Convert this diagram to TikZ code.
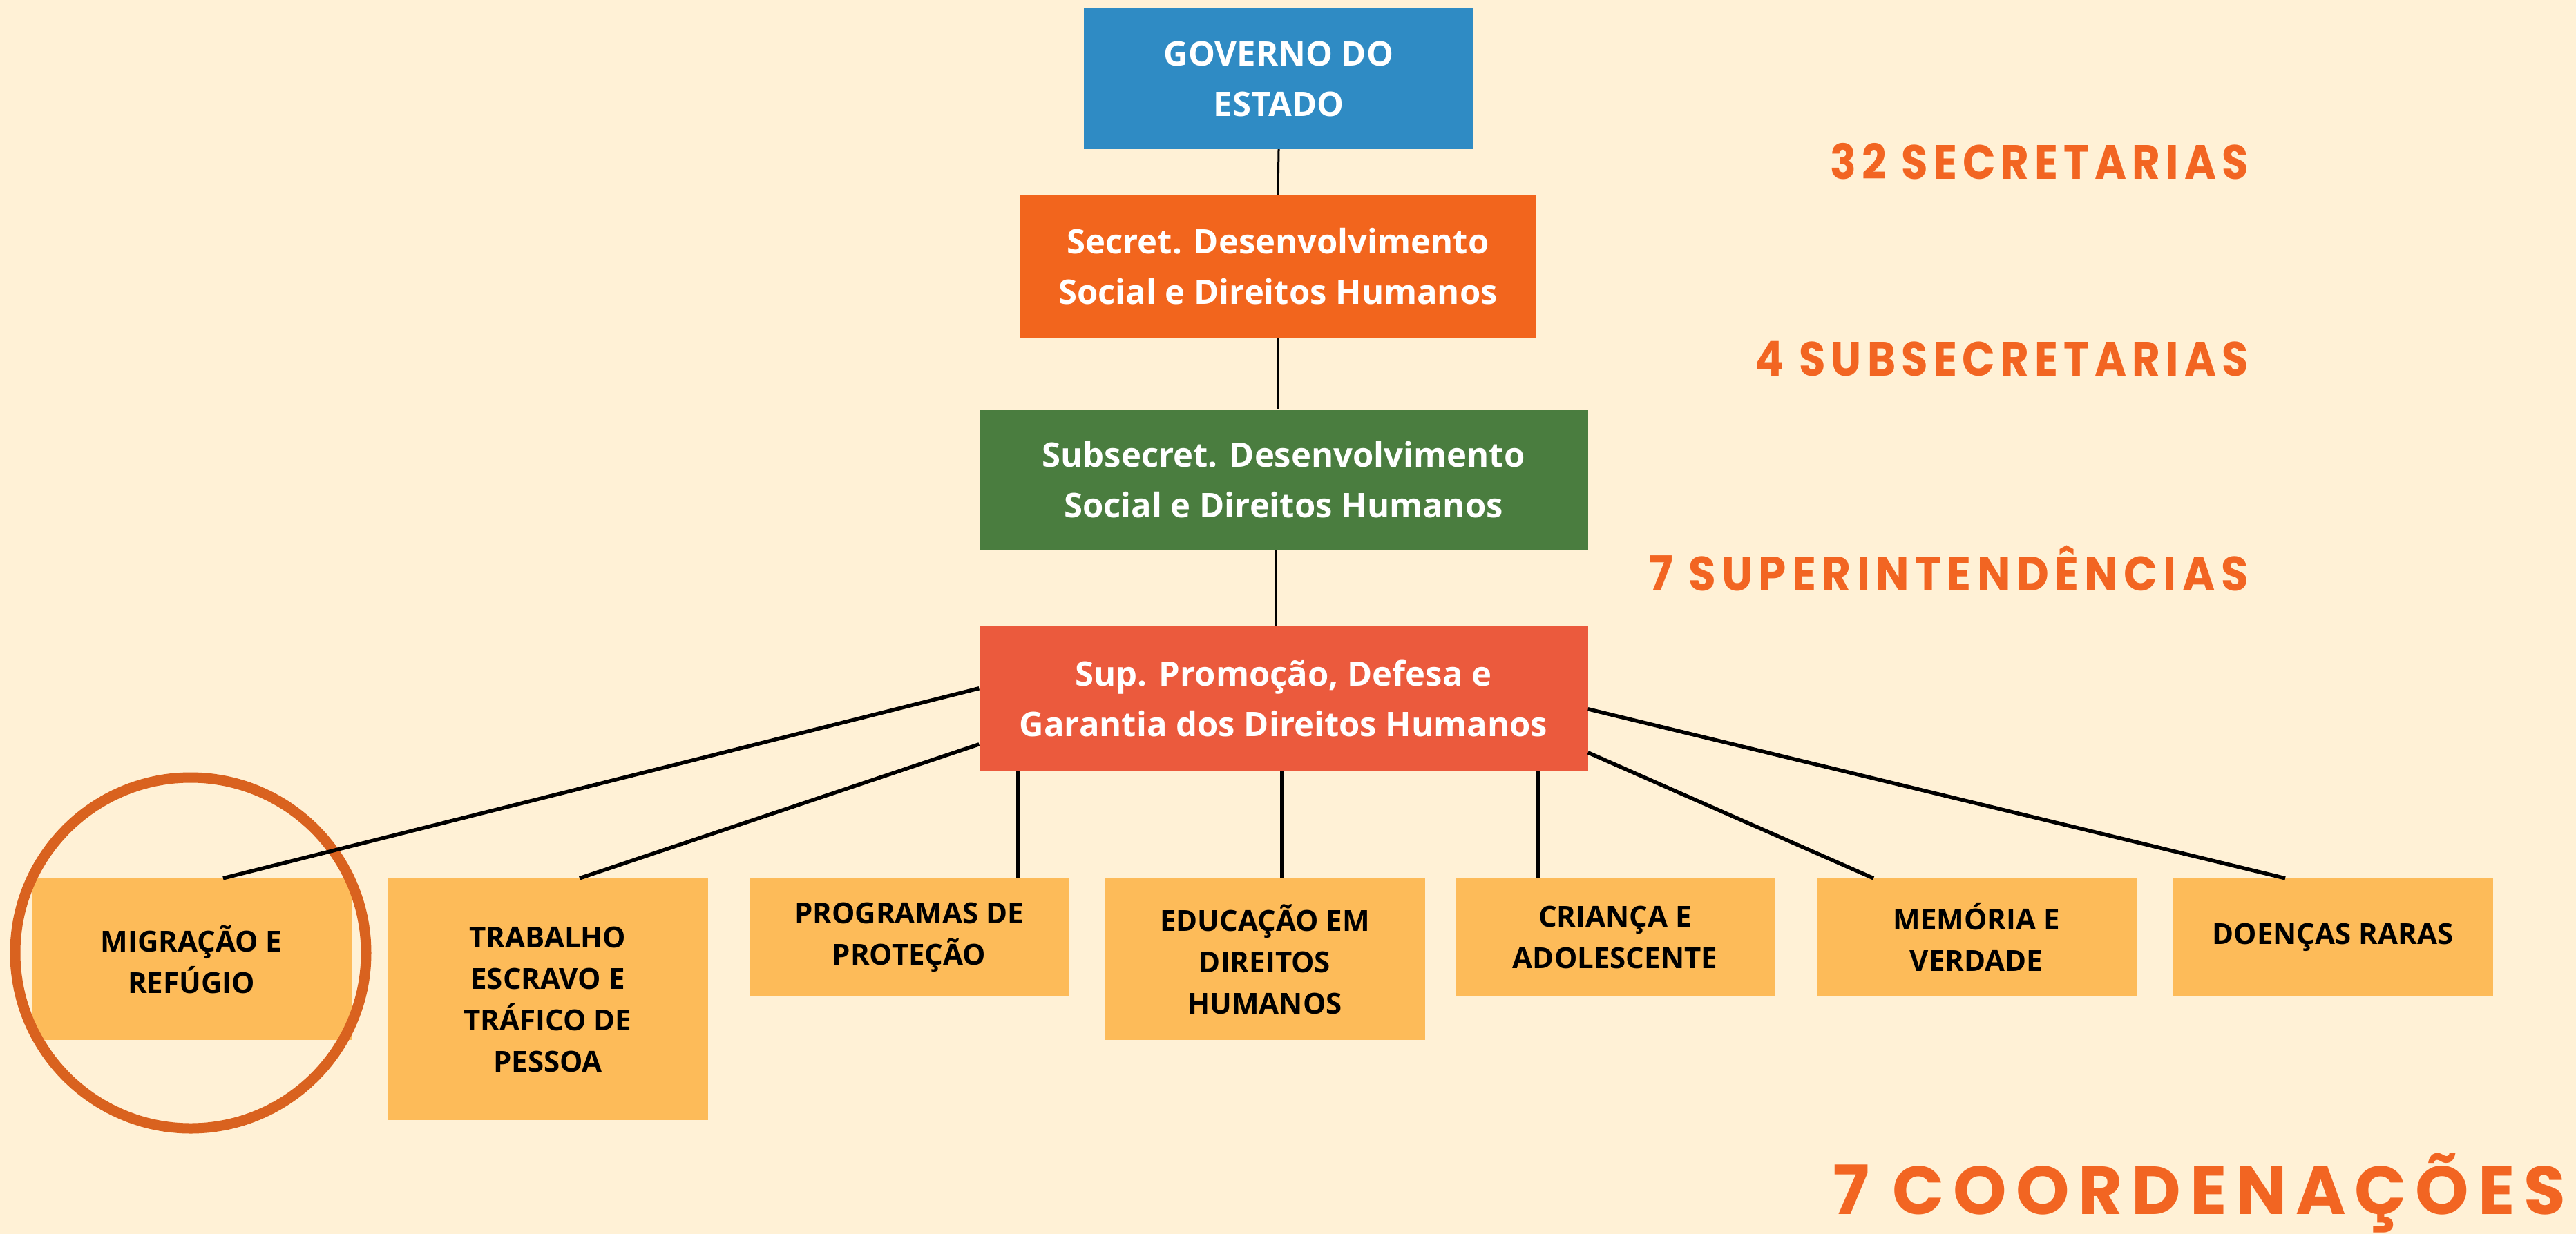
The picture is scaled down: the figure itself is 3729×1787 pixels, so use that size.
\documentclass[tikz,border=0pt]{standalone}
\usepackage{fontspec}
\usepackage{graphicx}
\setmainfont{Open Sans}
\newfontfamily\boxfont{Open Sans}
\newfontfamily\labfont[LetterSpace=13]{Poppins}
\usetikzlibrary{calc}
\definecolor{bgc}{HTML}{FFF1D6}
\definecolor{govc}{HTML}{2F8BC4}
\definecolor{secc}{HTML}{F2651D}
\definecolor{subc}{HTML}{4A7D3F}
\definecolor{supc}{HTML}{EB5A3D}
\definecolor{boxc}{HTML}{FDBB59}
\definecolor{circc}{HTML}{D9621F}
\definecolor{labc}{HTML}{F26522}
\begin{document}
\begin{tikzpicture}[x=1pt,y=-1pt,
  hbox/.style={rectangle, inner sep=0pt, text=white, align=center,
    font=\fontsize{49}{73}\selectfont\bfseries},
  cbox/.style={rectangle, fill=boxc, inner sep=0pt, text=black, align=center,
    minimum width=463pt, font=\boxfont\fontsize{42}{60}\selectfont\bfseries},
  toplink/.style={line width=3pt, black},
  conn/.style={line width=5.5pt, black},
  lab/.style={text=labc, inner sep=0pt, anchor=base east, font=\labfont\bfseries},
  hilite/.style={circle, draw=circc, line width=15pt, inner sep=0pt, minimum size=508pt}
]
\useasboundingbox (0,0) rectangle (3729,1787);
\fill[bgc] (0,0) rectangle (3729,1787);

% header boxes
\node[hbox, fill=govc, minimum width=564pt, minimum height=204pt] (gov) at (1851,114) {GOVERNO DO\\ESTADO};
\node[hbox, fill=secc, minimum width=746pt, minimum height=206pt] (sec) at (1850,386) {Secret. Desenvolvimento\\Social e Direitos Humanos};
\node[hbox, fill=subc, minimum width=881pt, minimum height=203pt] (sub) at (1858,695) {Subsecret. Desenvolvimento\\Social e Direitos Humanos};
\node[hbox, fill=supc, minimum width=881pt, minimum height=210pt] (sup) at (1858,1011) {Sup. Promoção, Defesa e\\Garantia dos Direitos Humanos};

% coordination boxes
\node[cbox, minimum height=234pt] (mig) at (277,1389) {MIGRAÇÃO E\\REFÚGIO};
\node[cbox, minimum height=350pt] (tra) at (793,1447) {TRABALHO\\ESCRAVO E\\TRÁFICO DE\\PESSOA};
\node[cbox, minimum height=170pt] (pro) at (1316,1357) {PROGRAMAS DE\\PROTEÇÃO};
\node[cbox, minimum height=234pt] (edu) at (1831,1389) {EDUCAÇÃO EM\\DIREITOS\\HUMANOS};
\node[cbox, minimum height=170pt] (cri) at (2338,1357) {CRIANÇA E\\ADOLESCENTE};
\node[cbox, minimum height=170pt] (mem) at (2861,1357) {MEMÓRIA E\\VERDADE};
\node[cbox, minimum height=170pt] (doe) at (3377,1357) {DOENÇAS RARAS};

% highlight circle
\node[hilite] (hl) at (276,1380) {};

% top connectors
\draw[toplink] (gov.south) -- (sec.north);
\draw[toplink] (sec.south) -- (sec.south |- sub.north);
\coordinate (s1) at ($(sup.north)+(-12,0)$);
\draw[toplink] (s1 |- sub.south) -- (s1);

% bottom connectors
\draw[conn] ($(sup.north west)+(0,91)$) -- ($(mig.north)+(46,0)$);
\draw[conn] ($(sup.north west)+(0,172)$) -- ($(tra.north)+(46,0)$);
\coordinate (p1) at ($(pro.north)+(158,0)$);
\draw[conn] (p1 |- sup.south) -- (p1);
\coordinate (e1) at ($(edu.north)+(25,0)$);
\draw[conn] (e1 |- sup.south) -- (e1);
\coordinate (c1) at ($(cri.north)+(-111,0)$);
\draw[conn] (c1 |- sup.south) -- (c1);
\draw[conn] ($(sup.north east)+(0,184)$) -- ($(mem.north)+(-149,0)$);
\draw[conn] ($(sup.north east)+(0,121)$) -- ($(doe.north)+(-69,0)$);

% side labels
\node[lab] (l1) at (3255,260) {\resizebox{605pt}{49pt}{\smash{32 SECRETARIAS}\vphantom{E}}};
\node[lab] (l2) at (3255,544) {\resizebox{714pt}{49pt}{\smash{4 SUBSECRETARIAS}\vphantom{E}}};
\node[lab] (l3) at (3255,855) {\resizebox{867pt}{49pt}{\smash{7 SUPERINTENDÊNCIAS}\vphantom{E}}};
\node[lab] (l4) at (3714,1758) {\resizebox{1060pt}{69pt}{\smash{7 COORDENAÇÕES}\vphantom{E}}};
\end{tikzpicture}
\end{document}
